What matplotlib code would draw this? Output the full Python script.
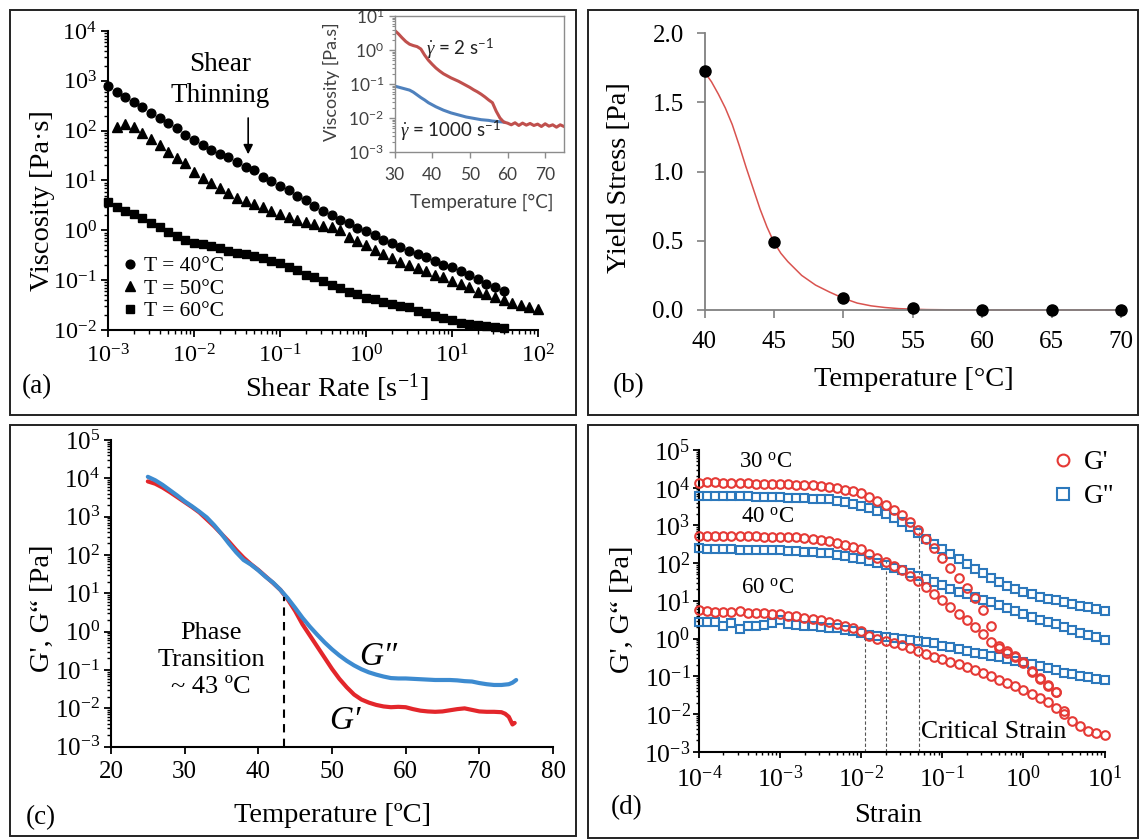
import numpy as np
import matplotlib
matplotlib.use('Agg')
import matplotlib.pyplot as plt
from matplotlib.patches import Rectangle
from matplotlib.lines import Line2D
from matplotlib.ticker import LogLocator, NullFormatter, FuncFormatter, FixedLocator

plt.rcParams['font.family'] = ['Liberation Serif', 'DejaVu Serif']
plt.rcParams['mathtext.fontset'] = 'custom'
plt.rcParams['mathtext.rm'] = 'Liberation Serif'
plt.rcParams['mathtext.it'] = 'Liberation Serif:italic'
plt.rcParams['mathtext.bf'] = 'Liberation Serif:bold'
plt.rcParams['mathtext.sf'] = 'Lato'
plt.rcParams['axes.unicode_minus'] = False

# ---------------- data: panel (a) ----------------
log_rate = [-3.0, -2.9, -2.8, -2.7, -2.6, -2.5, -2.4, -2.3, -2.2, -2.1,
            -2.0, -1.9, -1.8, -1.7, -1.6, -1.5, -1.4, -1.3, -1.2, -1.1,
            -1.0, -0.9, -0.8, -0.7, -0.6, -0.5, -0.4, -0.3, -0.2, -0.1,
            0.0, 0.1, 0.2, 0.3, 0.4, 0.5, 0.6, 0.7, 0.8, 0.9,
            1.0, 1.1, 1.2, 1.3, 1.4, 1.5, 1.6, 1.7, 1.8, 1.9, 2.0]
log_visc_40 = [2.90, 2.78, 2.68, 2.58, 2.48, 2.36, 2.25, 2.15, 2.05, 1.91,
               1.81, 1.71, 1.61, 1.53, 1.47, 1.38, 1.28, 1.21, 1.08, 0.98,
               0.88, 0.80, 0.69, 0.60, 0.49, 0.38, 0.31, 0.21, 0.14, 0.05,
               -0.01, -0.09, -0.19, -0.26, -0.33, -0.41, -0.48, -0.54, -0.61, -0.70,
               -0.74, -0.81, -0.90, -0.98, -1.08, -1.14, -1.21]
log_visc_50 = [2.07, 2.13, 2.07, 1.95, 1.83, 1.71, 1.58, 1.45, 1.35, 1.18,
               1.06, 0.94, 0.84, 0.74, 0.65, 0.59, 0.52, 0.46, 0.39, 0.33,
               0.26, 0.21, 0.17, 0.13, 0.09, 0.07, 0.01, -0.13, -0.21, -0.29,
               -0.39, -0.48, -0.56, -0.63, -0.70, -0.76, -0.81, -0.90, -0.94, -1.01,
               -1.08, -1.14, -1.23, -1.28, -1.34, -1.40, -1.45, -1.50, -1.53, -1.57]
log_visc_60 = [0.575, 0.47, 0.39, 0.32, 0.24, 0.14, 0.07, -0.03, -0.11, -0.19,
               -0.25, -0.27, -0.31, -0.36, -0.42, -0.45, -0.48, -0.52, -0.56, -0.62,
               -0.65, -0.73, -0.80, -0.90, -0.94, -1.01, -1.10, -1.16, -1.23, -1.28,
               -1.36, -1.38, -1.43, -1.48, -1.52, -1.54, -1.61, -1.65, -1.72, -1.75,
               -1.80, -1.85, -1.87, -1.90, -1.91, -1.93, -1.95]
legend_a = ['T = 40°C', 'T = 50°C', 'T = 60°C']

# inset of (a)
inset_T_2 = [30, 31, 32, 33, 34, 35, 36, 37, 38, 39, 40, 41, 42, 43, 44, 45, 46, 47, 48, 49,
             50, 51, 52, 53, 54, 55, 56, 57, 58, 59, 60, 61, 62, 63, 64, 65, 66, 67, 68, 69,
             70, 71, 72, 73, 74, 75]
inset_log_visc_2 = [0.58, 0.48, 0.36, 0.25, 0.17, 0.13, 0.10, 0.03, -0.15, -0.30,
                    -0.42, -0.53, -0.62, -0.70, -0.76, -0.82, -0.87, -0.92, -0.98, -1.04,
                    -1.10, -1.17, -1.23, -1.30, -1.38, -1.47, -1.55, -1.80, -2.00, -2.12,
                    -2.15, -2.20, -2.14, -2.22, -2.15, -2.21, -2.16, -2.22, -2.18, -2.25,
                    -2.17, -2.24, -2.20, -2.27, -2.20, -2.25]
inset_T_1000 = [30, 31, 32, 33, 34, 35, 36, 37, 38, 39, 40, 41, 42, 43, 44, 45, 46, 47, 48, 49,
                50, 51, 52, 53, 54, 55, 56, 57, 58, 59]
inset_log_visc_1000 = [-1.06, -1.09, -1.12, -1.15, -1.18, -1.24, -1.32, -1.40, -1.47, -1.55,
                       -1.61, -1.67, -1.72, -1.77, -1.81, -1.85, -1.88, -1.91, -1.94, -1.97,
                       -1.99, -2.01, -2.03, -2.05, -2.06, -2.07, -2.09, -2.10, -2.11, -2.12]

# ---------------- data: panel (b) ----------------
temp_b = [40, 45, 50, 55, 60, 65, 70]
yield_stress = [1.73, 0.49, 0.085, 0.015, 0.0, 0.0, 0.0]
fit_T = [40, 40.5, 41, 41.5, 42, 42.5, 43, 43.5, 44, 44.5, 45, 45.5, 46, 47, 48, 49, 50,
         51, 52, 53, 54, 55, 56, 57, 58, 60, 65, 70]
fit_Y = [1.72, 1.65, 1.56, 1.46, 1.34, 1.19, 1.03, 0.88, 0.73, 0.60, 0.49, 0.41, 0.35,
         0.25, 0.18, 0.13, 0.085, 0.05, 0.03, 0.018, 0.01, 0.006, 0.003, 0.002, 0.001,
         0.0, 0.0, 0.0]

# ---------------- data: panel (c) ----------------
temp_c = [25, 26, 27, 28, 29, 30, 31, 32, 33, 34, 35, 36, 37, 38, 39, 40, 41, 42, 43, 44,
          45, 46, 47, 48, 49, 50, 51, 52, 53, 54, 55, 56, 57, 58, 59, 60, 61, 62, 63, 64,
          65, 66, 67, 68, 69, 70, 71, 72, 73]
temp_c_g1_tail = [73.5, 74, 74.5, 74.8]
temp_c_g2_tail = [74, 74.5, 75]
log_g1_c = [3.92, 3.86, 3.76, 3.64, 3.51, 3.38, 3.25, 3.11, 2.93, 2.75,
            2.55, 2.35, 2.13, 1.93, 1.76, 1.61, 1.44, 1.27, 1.09, 0.84,
            0.54, 0.19, -0.10, -0.39, -0.68, -0.97, -1.23, -1.45, -1.64, -1.77,
            -1.85, -1.91, -1.95, -1.97, -1.96, -1.97, -2.02, -2.06, -2.08, -2.09,
            -2.08, -2.05, -2.02, -2.00, -2.04, -2.08, -2.09, -2.09, -2.10,
            -2.14, -2.22, -2.42, -2.38]
log_g2_c = [4.04, 3.95, 3.83, 3.69, 3.55, 3.40, 3.27, 3.13, 2.98, 2.78,
            2.55, 2.30, 2.07, 1.87, 1.75, 1.60, 1.43, 1.28, 1.09, 0.87,
            0.62, 0.36, 0.13, -0.08, -0.28, -0.46, -0.62, -0.76, -0.88, -0.98,
            -1.06, -1.12, -1.17, -1.21, -1.22, -1.22, -1.23, -1.24, -1.25, -1.26,
            -1.26, -1.26, -1.27, -1.29, -1.30, -1.34, -1.37, -1.39, -1.39,
            -1.37, -1.33, -1.26]
transition_T = 43.5
transition_top = 8.0

# ---------------- data: panel (d) ----------------
log_strain = [-4.0, -3.9, -3.8, -3.7, -3.6, -3.5, -3.4, -3.3, -3.2, -3.1,
              -3.0, -2.9, -2.8, -2.7, -2.6, -2.5, -2.4, -2.3, -2.2, -2.1,
              -2.0, -1.9, -1.8, -1.7, -1.6, -1.5, -1.4, -1.3, -1.2, -1.1,
              -1.0, -0.9, -0.8, -0.7, -0.6, -0.5, -0.4, -0.3, -0.2, -0.1,
              0.0, 0.1, 0.2, 0.3, 0.4, 0.5, 0.6, 0.7, 0.8, 0.9, 1.0]
log_g1_30 = [4.13, 4.14, 4.14, 4.13, 4.13, 4.12, 4.12, 4.11, 4.11, 4.10,
             4.10, 4.09, 4.08, 4.07, 4.06, 4.05, 4.03, 3.99, 3.94, 3.90,
             3.85, 3.76, 3.66, 3.53, 3.41, 3.28, 3.08, 2.87, 2.65, 2.40,
             2.13, 1.86, 1.60, 1.33, 1.07, 0.76, 0.33, -0.20, -0.33, -0.47,
             -0.63, -0.85, -1.05, -1.22, -1.41]
log_g2_30 = [3.78, 3.78, 3.78, 3.78, 3.77, 3.77, 3.77, 3.76, 3.76, 3.76,
             3.75, 3.74, 3.73, 3.72, 3.71, 3.70, 3.69, 3.65, 3.61, 3.57,
             3.52, 3.46, 3.38, 3.29, 3.21, 3.10, 2.95, 2.80, 2.64, 2.51,
             2.38, 2.25, 2.12, 1.99, 1.85, 1.73, 1.60, 1.49, 1.40, 1.31,
             1.23, 1.17, 1.11, 1.06, 1.02, 0.97, 0.92, 0.87, 0.83, 0.78, 0.74]
log_g1_40 = [2.72, 2.73, 2.72, 2.72, 2.72, 2.71, 2.71, 2.71, 2.70, 2.70,
             2.70, 2.69, 2.68, 2.67, 2.64, 2.61, 2.58, 2.54, 2.49, 2.43,
             2.37, 2.25, 2.13, 2.02, 1.93, 1.82, 1.67, 1.52, 1.37, 1.19,
             1.01, 0.84, 0.66, 0.48, 0.30, 0.13, -0.08, -0.26, -0.37, -0.50,
             -0.66, -0.88, -1.06, -1.25, -1.42, -1.92]
log_g2_40 = [2.39, 2.38, 2.38, 2.37, 2.37, 2.36, 2.36, 2.35, 2.35, 2.34,
             2.34, 2.33, 2.32, 2.30, 2.29, 2.27, 2.26, 2.22, 2.18, 2.14,
             2.10, 2.06, 2.00, 1.94, 1.88, 1.81, 1.73, 1.66, 1.58, 1.49,
             1.41, 1.32, 1.24, 1.17, 1.09, 1.02, 0.96, 0.88, 0.81, 0.74,
             0.65, 0.57, 0.50, 0.44, 0.38, 0.31, 0.23, 0.16, 0.09, 0.03, -0.04]
log_g1_60 = [0.77, 0.72, 0.71, 0.70, 0.71, 0.72, 0.69, 0.68, 0.68, 0.66,
             0.65, 0.60, 0.60, 0.55, 0.52, 0.48, 0.43, 0.38, 0.33, 0.27,
             0.20, 0.08, -0.01, -0.06, -0.11, -0.17, -0.25, -0.32, -0.40, -0.48,
             -0.55, -0.62, -0.68, -0.75, -0.83, -0.92, -1.00, -1.10, -1.19, -1.27,
             -1.36, -1.46, -1.58, -1.68, -1.85, -2.00, -2.18, -2.32, -2.45, -2.50, -2.56]
log_g2_60 = [0.45, 0.44, 0.43, 0.33, 0.40, 0.25, 0.33, 0.34, 0.36, 0.40,
             0.49, 0.38, 0.36, 0.34, 0.32, 0.31, 0.29, 0.27, 0.23, 0.19,
             0.14, 0.10, 0.07, 0.04, 0.02, 0.00, -0.04, -0.06, -0.08, -0.13,
             -0.19, -0.23, -0.28, -0.33, -0.37, -0.41, -0.45, -0.49, -0.53, -0.59,
             -0.62, -0.67, -0.73, -0.78, -0.83, -0.90, -0.94, -0.98, -1.02, -1.07, -1.09]
crit_strain = [0.011, 0.020, 0.051]
crit_top = [0.95, 120, 930]
temp_labels_d = ['30 $^{\\mathrm{o}}$C', '40 $^{\\mathrm{o}}$C', '60 $^{\\mathrm{o}}$C']

# ---------------- figure ----------------
W, H = 1140, 840
fig = plt.figure(figsize=(W / 100, H / 100), dpi=100)


def axes_px(l, t, r, b):
    return fig.add_axes([l / W, 1 - b / H, (r - l) / W, (b - t) / H])


def frame_px(l, t, r, b):
    fig.add_artist(Rectangle((l / W, 1 - b / H), (r - l) / W, (b - t) / H,
                             transform=fig.transFigure, fill=False, ec='#222222', lw=1.4))


def ftext(x, y, s, **kw):
    kw.setdefault('ha', 'center')
    kw.setdefault('va', 'center')
    fig.text(x / W, 1 - y / H, s, **kw)


def logfmt(v, p):
    return r'$\mathdefault{10^{%d}}$' % int(round(np.log10(v)))


def setup_log(ax, axis, lo, hi):
    a = ax.xaxis if axis == 'x' else ax.yaxis
    a.set_major_locator(FixedLocator([10.0 ** k for k in range(lo, hi + 1)]))
    a.set_minor_locator(LogLocator(base=10, subs=np.arange(2, 10), numticks=30))
    a.set_major_formatter(FuncFormatter(logfmt))
    a.set_minor_formatter(NullFormatter())


for fr in [(10, 10, 576, 415), (588, 10, 1138, 415), (10, 425, 576, 836), (588, 425, 1138, 838)]:
    frame_px(*fr)

p = lambda lst: 10.0 ** np.array(lst)

# ---------------- panel (a) ----------------
axa = axes_px(108, 31, 538, 330)
axa.set_xscale('log')
axa.set_yscale('log')
axa.set_xlim(1e-3, 1e2)
axa.set_ylim(1e-2, 1e4)
setup_log(axa, 'x', -3, 2)
setup_log(axa, 'y', -2, 4)
for s in ['top', 'right']:
    axa.spines[s].set_visible(False)
for s in ['left', 'bottom']:
    axa.spines[s].set_linewidth(1.5)
axa.tick_params(which='major', direction='out', length=5, width=1.3, labelsize=17.5)
axa.tick_params(axis='x', which='major', pad=5)
axa.tick_params(axis='y', which='major', pad=3)
axa.tick_params(which='minor', direction='out', length=3, width=1.0)
ha1, = axa.plot(p(log_rate[0:47]), p(log_visc_40), 'o', color='k', ms=6.3, clip_on=False, zorder=3)
ha2, = axa.plot(p(log_rate[1:51]), p(log_visc_50), '^', color='k', ms=6.6, clip_on=False, zorder=3)
ha3, = axa.plot(p(log_rate[0:47]), p(log_visc_60), 's', color='k', ms=5.2, clip_on=False, zorder=3)
axa.legend([ha1, ha2, ha3], legend_a, loc='upper left', bbox_to_anchor=(122 / W, 1 - 256 / H),
           bbox_transform=fig.transFigure, frameon=False, fontsize=15.5, handlelength=0.7,
           handletextpad=0.3, labelspacing=0.12, borderpad=0, borderaxespad=0)
axa.annotate('', xy=(10 ** -1.37, 10 ** 1.47), xytext=(10 ** -1.37, 10 ** 2.31),
             arrowprops=dict(arrowstyle='-|>', color='k', lw=1.2, mutation_scale=14))
ftext(220, 80, 'Shear\nThinning', fontsize=19.5, linespacing=1.3)
ftext(43, 201, 'Viscosity [Pa·s]', fontsize=20.5, rotation=90)
ftext(337, 388, 'Shear Rate [s$^{-1}$]', fontsize=20.5)
ftext(37, 387, '(a)', fontsize=19.5)

# inset
axi = axes_px(394.5, 16, 564, 152)
axi.set_facecolor('white')
axi.set_yscale('log')
axi.set_xlim(30, 75)
axi.set_ylim(1e-3, 1e1)
axi.yaxis.set_major_locator(FixedLocator([10.0 ** k for k in range(-3, 2)]))
axi.yaxis.set_minor_locator(LogLocator(base=10, subs=np.arange(2, 10), numticks=30))
axi.yaxis.set_major_formatter(FuncFormatter(lambda v, q: r'$\mathsf{10^{%d}}$' % int(round(np.log10(v)))))
axi.yaxis.set_minor_formatter(NullFormatter())
axi.xaxis.set_major_locator(FixedLocator([30, 40, 50, 60, 70]))
for s in axi.spines.values():
    s.set_color('#8c8c8c')
    s.set_linewidth(1.0)
axi.tick_params(which='both', colors='#8c8c8c', labelcolor='#404040', direction='out')
axi.tick_params(which='major', length=4, width=1.0, labelsize=12.5)
axi.tick_params(which='minor', length=2, width=0.8)
axi.tick_params(axis='x', pad=7)
for lab in axi.get_xticklabels():
    lab.set_family('Lato')
axi.plot(inset_T_1000, p(inset_log_visc_1000), color='#4F81BD', lw=2.2)
axi.plot(inset_T_2, p(inset_log_visc_2), color='#C0504D', lw=2.2)
ftext(460, 49, r'$\dot{\gamma}$ = 2 s$^{\mathsf{-1}}$', fontsize=13.5, family='Lato', color='#222222')
ftext(450, 131, r'$\dot{\gamma}$ = 1000 s$^{\mathsf{-1}}$', fontsize=13.5, family='Lato', color='#222222')
ftext(482, 202, 'Temperature [°C]', fontsize=13.5, family='Lato', color='#404040')
ftext(331, 82, 'Viscosity [Pa.s]', fontsize=13, family='Lato', color='#404040', rotation=90)

# ---------------- panel (b) ----------------
axb = axes_px(704.5, 33.3, 1121, 310)
axb.set_xlim(40, 70)
axb.set_ylim(0, 2)
axb.xaxis.set_major_locator(FixedLocator([40, 45, 50, 55, 60, 65, 70]))
axb.yaxis.set_major_locator(FixedLocator([0.0, 0.5, 1.0, 1.5, 2.0]))
axb.yaxis.set_major_formatter(FuncFormatter(lambda v, q: '%.1f' % v))
for s in ['top', 'right']:
    axb.spines[s].set_visible(False)
for s in ['left', 'bottom']:
    axb.spines[s].set_color('#808080')
    axb.spines[s].set_linewidth(1.3)
axb.tick_params(which='major', direction='out', length=6, width=1.2, color='#808080', labelsize=18)
axb.tick_params(axis='y', pad=9)
axb.tick_params(axis='x', pad=9)
axb.plot(fit_T, fit_Y, color='#D9534F', lw=1.1, zorder=2, clip_on=False)
axb.plot(temp_b, yield_stress, 'o', color='k', ms=8, zorder=3, clip_on=False)
ftext(619, 178, 'Yield Stress [Pa]', fontsize=20.5, rotation=90)
ftext(914, 380, 'Temperature [°C]', fontsize=20.5)
ftext(629, 386, '(b)', fontsize=19.5)

# ---------------- panel (c) ----------------
axc = axes_px(111, 440, 553, 746.7)
axc.set_yscale('log')
axc.set_xlim(20, 80)
axc.set_ylim(1e-3, 1e5)
setup_log(axc, 'y', -3, 5)
axc.xaxis.set_major_locator(FixedLocator([20, 30, 40, 50, 60, 70, 80]))
for s in ['top', 'right']:
    axc.spines[s].set_visible(False)
for s in ['left', 'bottom']:
    axc.spines[s].set_linewidth(1.5)
axc.tick_params(which='major', direction='out', length=5, width=1.3, labelsize=18)
axc.tick_params(which='minor', direction='out', length=3, width=1.0)
axc.tick_params(axis='x', pad=5)
axc.tick_params(axis='y', pad=3)
axc.plot(temp_c + temp_c_g1_tail, p(log_g1_c), color='#E3262B', lw=3.0, solid_capstyle='round')
axc.plot(temp_c + temp_c_g2_tail, p(log_g2_c), color='#3D8BD0', lw=3.0, solid_capstyle='round')
axc.plot([transition_T, transition_T], [1e-3, transition_top], ls=(0, (4, 3)), color='k', lw=1.5)
ftext(211, 660, 'Phase\nTransition\n~ 43 ºC', fontsize=19, linespacing=1.3)
ftext(378, 657, 'G″', fontsize=24, style='italic', family=['Liberation Serif', 'DejaVu Serif'])
ftext(345, 721, 'G′', fontsize=24, style='italic', family=['Liberation Serif', 'DejaVu Serif'])
ftext(42, 608, 'G\', G“ [Pa]', fontsize=20.5, rotation=90)
ftext(333, 815, 'Temperature [ºC]', fontsize=20.5)
ftext(41, 818, '(c)', fontsize=19.5)

# ---------------- panel (d) ----------------
axd = axes_px(699, 450, 1104.5, 751.7)
axd.set_xscale('log')
axd.set_yscale('log')
axd.set_xlim(1e-4, 1e1)
axd.set_ylim(1e-3, 1e5)
setup_log(axd, 'x', -4, 1)
setup_log(axd, 'y', -3, 5)
for s in ['top', 'right']:
    axd.spines[s].set_visible(False)
for s in ['left', 'bottom']:
    axd.spines[s].set_linewidth(1.5)
axd.tick_params(which='major', direction='out', length=4, width=1.3, labelsize=18.5)
axd.tick_params(which='minor', direction='out', length=2.5, width=1.0)
axd.tick_params(axis='x', pad=6)
axd.tick_params(axis='y', pad=2)
red_d = '#E53935'
blue_d = '#2C78BC'
for ys in [log_g2_30, log_g2_40, log_g2_60]:
    axd.plot(p(log_strain), p(ys), 's', mfc='none', mec=blue_d, mew=1.5, ms=5.6, zorder=3, clip_on=False)
axd.plot(p(log_strain[0:45]), p(log_g1_30), 'o', mfc='none', mec=red_d, mew=1.5, ms=6.2, zorder=4, clip_on=False)
axd.plot(p(log_strain[0:46]), p(log_g1_40), 'o', mfc='none', mec=red_d, mew=1.5, ms=6.2, zorder=4, clip_on=False)
axd.plot(p(log_strain), p(log_g1_60), 'o', mfc='none', mec=red_d, mew=1.5, ms=6.2, zorder=4, clip_on=False)
for xc, yt in zip(crit_strain, crit_top):
    axd.plot([xc, xc], [1e-3, yt], ls=(0, (3, 2)), color='#555555', lw=0.8, zorder=2)
hg1 = Line2D([], [], marker='o', ls='none', mfc='none', mec=red_d, mew=1.5, ms=8.5)
hg2 = Line2D([], [], marker='s', ls='none', mfc='none', mec=blue_d, mew=1.5, ms=8)
axd.legend([hg1, hg2], ["G'", 'G"'], loc='upper left', bbox_to_anchor=(1055 / W, 1 - 450 / H),
           bbox_transform=fig.transFigure, frameon=False, fontsize=19.5, handlelength=0.6,
           handletextpad=0.45, labelspacing=0.35, borderpad=0, borderaxespad=0)
ftext(766, 462, temp_labels_d[0], fontsize=16.5)
ftext(768, 517, temp_labels_d[1], fontsize=16.5)
ftext(768, 588, temp_labels_d[2], fontsize=16.5)
ftext(994, 732, 'Critical Strain', fontsize=18.5)
ftext(622, 609, 'G\', G“ [Pa]', fontsize=20.5, rotation=90)
ftext(888, 815, 'Strain', fontsize=20.5)
ftext(627, 808, '(d)', fontsize=19.5)

fig.savefig('out.png', dpi=100)
